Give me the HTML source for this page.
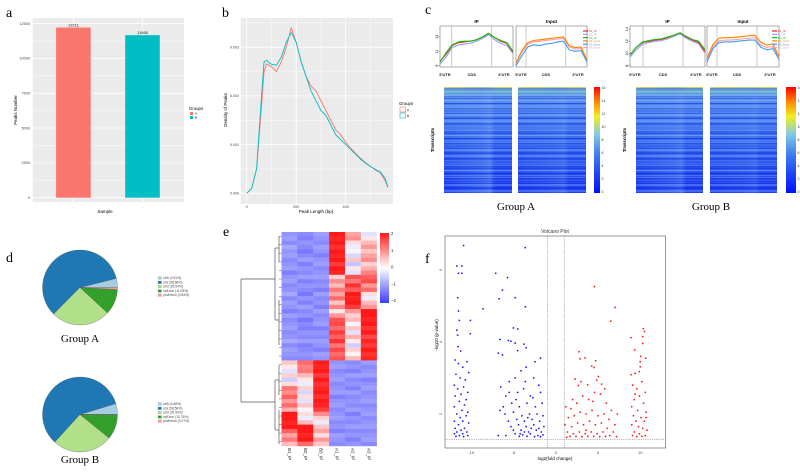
<!DOCTYPE html>
<html><head><meta charset="utf-8"><style>
body{margin:0;background:#fff;}
svg{display:block;font-family:"Liberation Sans",sans-serif;}
.serif{font-family:"Liberation Serif",serif;}
</style></head><body>
<svg id="fig" width="800" height="473" viewBox="0 0 800 473" xmlns="http://www.w3.org/2000/svg">
<defs>
<linearGradient id="jet" x1="0" y1="1" x2="0" y2="0">
<stop offset="0" stop-color="#0010ff"/><stop offset="0.35" stop-color="#3a78f0"/><stop offset="0.55" stop-color="#80c8e8"/><stop offset="0.72" stop-color="#f0f020"/><stop offset="0.87" stop-color="#ff8000"/><stop offset="1" stop-color="#ff0000"/>
</linearGradient>
<linearGradient id="bwr" x1="0" y1="1" x2="0" y2="0">
<stop offset="0" stop-color="#3c3cff"/><stop offset="0.5" stop-color="#ffffff"/><stop offset="1" stop-color="#ff1a1a"/>
</linearGradient>
<linearGradient id="hmTop" x1="0" y1="0" x2="0" y2="1">
<stop offset="0" stop-color="#d8e040"/><stop offset="0.02" stop-color="#80c8d0"/><stop offset="0.12" stop-color="#5a90f0"/><stop offset="0.5" stop-color="#3a6cf0"/><stop offset="1" stop-color="#1e3ef0"/>
</linearGradient>
<linearGradient id="hmBand" x1="0" y1="0" x2="1" y2="0">
<stop offset="0" stop-color="#6aa0f0" stop-opacity="0"/><stop offset="0.55" stop-color="#6aa0f0" stop-opacity="0.35"/><stop offset="0.68" stop-color="#80b0f0" stop-opacity="0.45"/><stop offset="0.75" stop-color="#6aa0f0" stop-opacity="0"/><stop offset="1" stop-color="#6aa0f0" stop-opacity="0"/>
</linearGradient>
<pattern id="stripes1" width="80" height="5" patternUnits="userSpaceOnUse">
<rect x="0" y="0" width="80" height="1" fill="#7ab0ff" opacity="0.35"/><rect x="0" y="3" width="80" height="1" fill="#0818d8" opacity="0.35"/>
</pattern>
<pattern id="stripes2" width="80" height="7" patternUnits="userSpaceOnUse">
<rect x="0" y="2" width="80" height="1" fill="#90c0ff" opacity="0.3"/><rect x="0" y="5" width="80" height="1.5" fill="#0010d0" opacity="0.25"/>
</pattern>
</defs>

<!-- Panel letters -->
<text x="6" y="17" class="serif" font-size="14">a</text>
<text x="222" y="17" class="serif" font-size="14">b</text>
<text x="425" y="14" class="serif" font-size="14">c</text>
<text x="6" y="262" class="serif" font-size="14">d</text>
<text x="223" y="236" class="serif" font-size="14">e</text>
<text x="425" y="263" class="serif" font-size="14">f</text>

<g id="pa"></g>
<g id="pb"></g>
<g id="pc"></g>
<g id="pd"></g>
<g id="pe"></g>
<g id="pf"></g>
</svg>
<script>
// ---------- DATA ----------
const barGroups = ["A","B"];
const barValues = [12211, 11665];
const barTicks = [0,2500,5000,7500,10000,12500];

const densX = [0,20,40,60,70,80,100,120,140,160,180,200,220,240,260,280,300,320,340,360,380,400,420,440,460,480,500,520,540,560,570];
const densA = [0,0.0001,0.0005,0.0018,0.0025,0.00266,0.0026,0.0025,0.0027,0.003,0.0034,0.0031,0.0027,0.0024,0.0022,0.0021,0.0019,0.0017,0.0015,0.0013,0.0012,0.00105,0.00093,0.00082,0.00072,0.00063,0.00055,0.00048,0.00042,0.00025,0.00012];
const densB = [0,0.0001,0.0005,0.002,0.0027,0.00273,0.00265,0.00263,0.0028,0.0031,0.0033,0.0031,0.0027,0.0024,0.0021,0.0019,0.0017,0.0016,0.0014,0.0012,0.0011,0.001,0.0009,0.0008,0.0007,0.00062,0.00055,0.00049,0.00044,0.0003,0.00013];
const densYTicks = [0,0.001,0.002,0.003];
const densXTicks = [0,200,400];

const ipA1 = [9.6,10.6,11.8,12.2,12.3,12.4,12.6,13.0,13.5,12.9,12.4,12.1,10.9];
const ipA2 = [9.2,10.2,11.5,11.9,12.0,12.1,12.4,12.8,13.3,12.6,12.1,11.8,10.7];
const ipA3 = [9.5,10.8,11.9,12.3,12.4,12.4,12.6,13.0,13.5,12.9,12.5,12.2,11.0];
const inA1 = [9.4,11.1,12.2,12.5,12.6,12.7,12.8,12.9,13.0,11.8,11.5,11.6,9.8];
const inA2 = [9.0,10.4,11.6,11.9,11.8,12.0,12.1,12.3,12.4,11.2,11.0,11.1,9.5];
const inA3 = [9.3,10.9,12.0,12.3,12.4,12.5,12.6,12.7,12.8,11.6,11.3,11.4,9.7];
const ipB1 = [9.8,11.0,11.8,12.0,12.2,12.3,12.6,13.0,13.4,12.7,12.2,11.8,10.3];
const ipB2 = [9.4,10.6,11.5,11.8,12.0,12.1,12.4,12.8,13.2,12.5,12.0,11.6,10.1];
const ipB3 = [9.7,11.0,11.9,12.1,12.3,12.4,12.7,13.0,13.4,12.8,12.3,12.0,10.6];
const inB1 = [9.2,11.5,12.5,12.6,12.6,12.7,12.8,12.9,13.0,11.8,11.4,11.6,9.5];
const inB2 = [8.6,10.8,11.8,11.9,11.9,12.0,12.1,12.2,12.2,11.0,10.6,10.8,9.0];
const inB3 = [8.9,11.1,12.1,12.2,12.2,12.3,12.4,12.5,12.6,11.3,11.0,11.2,9.2];
const ticksA = [9,11,13];
const ticksB = [8,10,12,14];
const cbTicks = [16,14,12,10,8,6,4,2,0];

const pieLabels = ["utr5","cds","utr3","npExon","pm/intron"];
const pieA = [3.91,58.68,25.54,11.05,0.84];
const pieB = [4.68,58.58,25.93,10.76,0.07];

const heatCols = ["B1_IP","B2_IP","B3_IP","A1_IP","A2_IP","A3_IP"];
const heatRows = [
[-1.1,-1.2,-1.0,2.0,0.8,-0.3],[-1.0,-1.3,-1.1,1.9,1.0,0.2],[-1.2,-1.1,-1.2,2.0,0.3,0.6],[-0.9,-1.2,-1.0,1.8,-0.2,0.9],[-1.1,-1.4,-1.1,2.0,0.1,0.5],
[-1.0,-1.2,-1.3,1.9,-0.4,0.8],[-1.2,-1.0,-1.1,2.0,0.5,1.0],[-1.1,-1.3,-1.0,1.7,-0.6,0.4],[-1.0,-1.1,-1.2,2.0,0.2,0.7],[-1.3,-1.2,-1.1,1.9,-0.3,1.1],
[-1.1,-1.0,-1.0,0.4,1.5,1.4],[-1.0,-1.3,-1.2,1.0,1.2,1.6],[-1.2,-1.1,-1.1,0.6,1.8,0.9],[-1.1,-1.2,-1.3,1.2,1.4,1.3],[-0.9,-1.4,-1.0,0.8,2.0,0.3],
[-1.2,-1.1,-1.2,1.3,1.9,-0.2],[-1.0,-1.3,-1.1,0.5,2.0,0.6],[-1.1,-1.0,-1.3,1.1,1.7,0.9],[-1.3,-1.2,-1.0,0.2,0.9,2.0],[-1.0,-1.1,-1.2,0.9,0.4,2.0],
[-1.2,-1.4,-1.1,1.5,0.6,1.9],[-1.1,-1.2,-1.0,1.6,-0.1,2.0],[-1.0,-1.3,-1.3,1.3,0.5,1.8],[-1.2,-1.1,-1.1,1.7,-0.3,2.0],[-1.1,-1.2,-1.2,1.4,0.7,1.6],
[-0.9,-1.0,-1.0,1.8,0.2,1.9],[-1.2,-1.3,-1.1,1.2,-0.5,1.7],[-1.0,-1.2,-1.3,1.6,0.4,2.0],[-1.1,-1.1,-1.0,1.3,0.1,1.8],[-1.2,-1.2,-1.1,1.5,0.6,1.9],
[0.5,1.3,2.0,-1.1,-1.2,-1.0],[0.2,1.1,1.9,-1.0,-1.1,-1.2],[-0.3,1.2,2.0,-1.2,-1.3,-1.1],[0.4,0.6,1.7,-1.1,-1.0,-1.0],[-0.5,0.2,2.0,-1.0,-1.2,-1.3],
[0.3,-0.2,1.8,-1.2,-1.1,-1.1],[1.2,0.4,1.9,-1.1,-1.3,-1.0],[1.0,-0.4,2.0,-1.0,-1.0,-1.2],[1.4,0.3,1.8,-1.3,-1.2,-1.1],[0.9,-0.3,2.0,-1.1,-1.1,-1.0],
[1.3,0.5,1.9,-1.0,-1.2,-1.2],[0.7,-0.1,1.7,-1.2,-1.0,-1.1],[2.0,0.3,1.0,-1.1,-1.3,-1.0],[2.0,-0.2,0.4,-1.0,-1.1,-1.2],[1.9,0.6,-0.2,-1.2,-1.2,-1.1],
[2.0,2.0,0.5,-1.1,-1.0,-1.0],[1.4,2.0,0.8,-1.3,-1.2,-1.2],[0.8,1.9,0.3,-1.0,-1.1,-1.1],[1.2,2.0,0.9,-1.1,-1.3,-1.0],[0.6,1.3,0.5,-1.2,-1.1,-1.2]];
const heatTicks = [2,1,0,-1,-2];

const downFC = [-10.9,-3.6,-11.7,-11.1,-11.5,-11.1,-7.1,-5.7,-6.3,-6.7,-4.8,-11.6,-8.6,-3.6,-11.5,-11.4,-10.1,-5.0,-4.5,-11.7,-11.6,-10.1,-6.6,-5.6,-5.3,-4.8,-3.75,-3.5,-11.56,-11.24,-6.8,-6.3,-4.5,-1.8,-2.45,
-11.9,-11.5,-10.5,-11.0,-11.8,-10.3,-11.3,-10.7,-12.0,-11.6,-10.9,-10.4,-11.2,-11.9,-10.6,-11.4,-12.0,-10.8,-11.1,-10.4,-11.7,-11.3,-10.6,-12.0,-11.0,-10.3,-11.5,-11.9,-10.8,-11.2,-10.5,-11.7,-12.0,-11.0,-11.4,-10.4,-11.8,-10.9,
-6.5,-5.5,-4.8,-4.1,-3.5,-2.6,-2.0,-5.9,-4.5,-3.8,-3.0,-1.8,-6.2,-5.2,-4.3,-3.4,-2.4,-1.6,-6.0,-5.0,-4.0,-3.1,-2.2,-1.5,-5.6,-4.6,-3.7,-2.8,-1.9,-5.3,-4.4,-3.5,-2.6,-1.4,-5.0,-4.1,-3.2,-2.3,-1.7,-4.8,-3.9,-3.0,-2.1,-1.5,-4.3,-3.4,-2.5,-1.8,-6.8,-5.9,-5.5,-6.6,-3.6,-2.9,-2.0,-3.3,-4.7,-2.7,-4.2,-3.7];
const downP = [6.68,6.62,6.11,6.11,5.91,5.91,5.91,5.79,5.44,5.2,5.23,5.23,4.92,4.98,4.86,4.6,4.6,4.39,4.36,4.33,4.19,4.23,4.07,4.04,4.02,3.97,3.94,3.84,3.87,3.75,3.69,3.64,3.76,3.55,3.45,
3.5,3.4,3.45,3.3,3.1,3.15,3.0,2.95,2.8,2.7,2.75,2.6,2.55,2.5,2.4,2.35,2.2,2.25,2.1,2.05,2.0,1.9,1.95,1.8,1.8,1.75,1.7,1.6,1.6,1.55,1.5,1.5,1.45,1.45,1.4,1.4,1.38,1.37,
2.75,2.9,3.0,3.2,3.3,3.0,2.8,2.5,2.6,2.7,2.5,2.6,2.2,2.3,2.2,2.3,2.2,2.3,2.0,2.05,1.95,2.0,2.0,1.95,1.8,1.85,1.8,1.85,1.8,1.65,1.7,1.65,1.7,1.65,1.55,1.55,1.5,1.55,1.5,1.45,1.42,1.45,1.4,1.42,1.38,1.38,1.37,1.37,1.4,1.4,2.6,2.1,2.9,1.6,1.6,1.9,2.4,2.45,1.45,1.5];
const upFC = [4.58,7.02,6.51,8.92,10.37,10.5,10.3,10.3,9.35,2.76,3.47,2.88,4.73,4.54,4.26,10.06,10.65,10.0,10.0,8.92,9.39,9.9,2.29,5.05,4.85,2.68,3.79,5.44,
1.2,1.8,2.5,3.2,3.9,4.6,5.3,6.0,6.6,7.3,1.5,2.2,2.9,3.6,4.3,5.0,5.7,6.3,7.0,1.1,1.9,2.6,3.3,4.0,4.7,5.4,6.1,6.8,1.4,2.1,2.8,3.5,4.2,4.9,5.6,6.4,7.2,1.7,2.4,3.1,3.8,4.5,5.2,5.9,3.0,4.4,2.0,5.8,1.3,3.6,
9.1,9.6,10.2,10.6,9.3,9.9,10.4,9.0,9.7,10.7,9.2,10.1,10.5,9.5,9.0,9.8,10.3,10.8,9.3,9.9,10.6,9.1,10.2,9.6,10.7,9.4];
const upP = [5.54,4.96,4.58,4.12,4.37,4.29,4.15,3.96,3.78,3.73,3.56,3.53,3.48,3.29,3.33,3.6,3.55,3.45,3.31,3.09,3.13,3.18,2.97,3.04,2.94,2.79,2.81,2.83,
2.2,2.15,2.3,2.5,2.4,2.6,2.55,2.3,2.1,2.0,1.9,1.95,2.05,2.0,2.1,1.95,2.0,1.85,1.7,1.7,1.65,1.75,1.7,1.8,1.7,1.75,1.6,1.5,1.5,1.45,1.5,1.45,1.5,1.45,1.5,1.4,1.37,1.38,1.38,1.37,1.38,1.38,1.37,1.38,2.9,2.35,2.4,2.7,1.35,1.55,
2.8,2.7,2.9,2.6,2.4,2.5,2.3,2.2,2.1,2.05,1.95,1.9,1.8,1.8,1.7,1.65,1.6,1.55,1.5,1.45,1.4,1.4,1.38,1.37,1.9,2.55];
const volXTicks = [-10,-5,0,5,10];
const volYTicks = [2,4,6];

// ---------- HELPERS ----------
const NS = "http://www.w3.org/2000/svg";
function mk(tag, attrs, parent){const e=document.createElementNS(NS,tag);for(const k in attrs)e.setAttribute(k,attrs[k]);parent.appendChild(e);return e;}
function txt(s, attrs, parent){const e=mk('text',attrs,parent);e.textContent=s;return e;}

// ---------- PANEL A ----------
(function(){
  const g=document.getElementById('pa');
  const x0=32.7,x1=184,yTop=18,yBot=202;
  const ya=v=>197.7-v*0.013935;
  const bg=mk('rect',{x:x0,y:yTop,width:x1-x0,height:yBot-yTop,fill:'#ebebeb'},g);
  
  
  barTicks.forEach((t,i)=>{
    if(i<barTicks.length-1){const m=mk('line',{x1:x0,x2:x1,y1:ya(t+1250),y2:ya(t+1250),stroke:'#fff','stroke-width':0.4},g);
    
    }
    const l=mk('line',{x1:x0,x2:x1,y1:ya(t),y2:ya(t),stroke:'#fff','stroke-width':0.8},g);
    
    
    const tl=txt(String(t),{x:30,y:ya(t)+1.3,'font-size':3.8,'text-anchor':'end',fill:'#444'},g);
    
    
  });
  const cols=['#f8766d','#00bfc4'];
  const centers=[73.4,142.5];
  centers.forEach(c=>{const l=mk('line',{x1:c,x2:c,y1:yTop,y2:yBot,stroke:'#fff','stroke-width':0.8},g);
    
    });
  barValues.forEach((v,i)=>{
    const b=mk('rect',{x:centers[i]-17.3,y:ya(v),width:34.6,height:ya(0)-ya(v),fill:cols[i]},g);
    
    
    const vl=txt(String(v),{x:centers[i],y:ya(v)-1,'font-size':4,'text-anchor':'middle',fill:'#222'},g);
    
    
    const xt=txt('-',{x:centers[i],y:208,'font-size':3,'text-anchor':'middle',fill:'#444'},g);
    
    
  });
  const yt=txt('Peaks Number',{x:0,y:0,'font-size':4.5,'text-anchor':'middle',transform:'translate(17,110) rotate(-90)'},g);
  
  
  const xt=txt('Sample',{x:105,y:213,'font-size':4.5,'text-anchor':'middle'},g);
  
  
  const lt=txt('Groups',{x:189,y:110,'font-size':4.3},g);
  
  
  barGroups.forEach((gname,i)=>{
    const r=mk('rect',{x:190,y:112+i*4,width:3,height:3,fill:cols[i]},g);
    
    
    const t=txt(gname,{x:195,y:114.7+i*4,'font-size':3},g);
    
    
  });
})();

// ---------- PANEL B ----------
(function(){
  const g=document.getElementById('pb');
  const x0=240.7,x1=393,yTop=18,yBot=204;
  const xb=v=>246.7+v*0.2475, yb=v=>193.3-v*48700;
  const bg=mk('rect',{x:x0,y:yTop,width:x1-x0,height:yBot-yTop,fill:'#ebebeb'},g);
  
  
  [100,300,500].forEach(t=>{const l=mk('line',{x1:xb(t),x2:xb(t),y1:yTop,y2:yBot,stroke:'#fff','stroke-width':0.4},g);
    
    });
  [0.0005,0.0015,0.0025,0.0035].forEach(t=>{const l=mk('line',{x1:x0,x2:x1,y1:yb(t),y2:yb(t),stroke:'#fff','stroke-width':0.4},g);
    
    });
  densXTicks.forEach(t=>{
    const l=mk('line',{x1:xb(t),x2:xb(t),y1:yTop,y2:yBot,stroke:'#fff','stroke-width':0.8},g);
    
    
    const tl=txt(String(t),{x:xb(t),y:208,'font-size':3.8,'text-anchor':'middle',fill:'#444'},g);
    
    
  });
  densYTicks.forEach(t=>{
    const l=mk('line',{x1:x0,x2:x1,y1:yb(t),y2:yb(t),stroke:'#fff','stroke-width':0.8},g);
    
    
    const tl=txt(t.toFixed(3),{x:239,y:yb(t)+1.3,'font-size':3.6,'text-anchor':'end',fill:'#444'},g);
    
    
  });
  [[densA,'#f8766d','density-line-a'],[densB,'#00bfc4','density-line-b']].forEach(([arr,c,n])=>{
    const p=mk('polyline',{points:densX.map((x,i)=>xb(x)+','+yb(arr[i])).join(' '),fill:'none',stroke:c,'stroke-width':0.9,'stroke-linejoin':'round'},g);
    
    
  });
  const yt=txt('Density of Peaks',{x:0,y:0,'font-size':4.5,'text-anchor':'middle',transform:'translate(227,110) rotate(-90)'},g);
  
  
  const xt=txt('Peak Length (bp)',{x:316,y:213,'font-size':4.5,'text-anchor':'middle'},g);
  
  
  const lt=txt('Groups',{x:399,y:105,'font-size':4.3},g);
  
  
  ['A','B'].forEach((n,i)=>{
    const r=mk('rect',{x:400,y:107+i*6,width:5.5,height:5,fill:'none',stroke:['#f8766d','#00bfc4'][i],'stroke-width':0.6},g);
    
    
    const t=txt(n,{x:407,y:111+i*6,'font-size':3},g);
    
    
  });
})();

// ---------- PANEL C ----------
(function(){
  const g=document.getElementById('pc');
  function profile(x0,x1,yBase,ppu,minV,series,cols,vl,title,showAxis,ticks){
    const yTop=26,yBot=67;
    const fr=mk('rect',{x:x0,y:yTop,width:x1-x0,height:yBot-yTop,fill:'#fff',stroke:'#333','stroke-width':0.4},g);
    
    
    vl.forEach(v=>{const l=mk('line',{x1:v,x2:v,y1:yTop,y2:yBot,stroke:'#bbb','stroke-width':0.8},g);
      
      });
    const yv=v=>yBase-(v-minV)*ppu;
    series.forEach((s,k)=>{
      const n=s.length,step=(x1-x0)/(n-1);
      const p=mk('polyline',{points:s.map((v,i)=>(x0+i*step)+','+yv(v)).join(' '),fill:'none',stroke:cols[k],'stroke-width':1.1,'stroke-linejoin':'round'},g);
      
      
    });
    const t=txt(title,{x:(x0+x1)/2,y:23,'font-size':4.5,'font-weight':'bold','text-anchor':'middle'},g);
    
    
    if(showAxis){ticks.forEach(tk=>{
      const tl=txt(String(tk),{x:0,y:0,'font-size':3.8,'text-anchor':'middle',transform:'translate('+(x0-2)+','+yv(tk)+') rotate(-90)'},g);
      
      
      const tm=mk('line',{x1:x0-1.5,x2:x0,y1:yv(tk),y2:yv(tk),stroke:'#333','stroke-width':0.4},g);
      
      
    });}
    [['5\'UTR',x0+5],['CDS',(vl[0]+vl[1])/2],['3\'UTR',x1-9]].forEach(([s,x])=>{
      const l=txt(s,{x:x,y:76,'font-size':4,'font-weight':'bold','text-anchor':'middle',fill:'#222'},g);
      
      
    });
  }
  const ipCols=['#ff2020','#9a9aff','#10c010'], inCols=['#ff8000','#3a9cff','#ffa0a0'];
  profile(440,513,65.7,7.2,9,[ipA2,ipA1,ipA3],[ipCols[1],ipCols[0],ipCols[2]],[451.7,491.7],'IP',true,ticksA);
  profile(516,587,65.7,7.2,9,[inA3,inA2,inA1],[inCols[2],inCols[1],inCols[0]],[526,565.7],'Input',false,ticksA);
  profile(630,705,65.7,6.1,8,[ipB2,ipB1,ipB3],[ipCols[1],ipCols[0],ipCols[2]],[643,683],'IP',true,ticksB);
  profile(707,779,65.7,6.1,8,[inB3,inB2,inB1],[inCols[2],inCols[1],inCols[0]],[717,757],'Input',false,ticksB);
  function legend(x,pre){
    const names=[pre+'1_IP',pre+'2_IP',pre+'3_IP',pre+'1_input',pre+'2_input',pre+'3_input'];
    const cs=[ipCols[0],ipCols[1],ipCols[2],inCols[0],inCols[1],inCols[2]];
    names.forEach((n,i)=>{
      const l=mk('line',{x1:x,x2:x+5,y1:31+i*3.3,y2:31+i*3.3,stroke:cs[i],'stroke-width':1.2},g);
      
      
      const t=txt(n,{x:x+6,y:32.2+i*3.3,'font-size':2.8,fill:cs[i]},g);
      
      
    });
  }
  legend(583,'A'); legend(772,'B');
  function hm(x0,x1,band){
    const y0=87,y1=193;
    const base=mk('rect',{x:x0,y:y0,width:x1-x0,height:y1-y0,fill:'url(#hmTop)'},g);
    
    
    const b=mk('rect',{x:x0,y:y0,width:x1-x0,height:y1-y0,fill:'url(#hmBand)',opacity:band},g);
    
    
    const s1=mk('rect',{x:x0,y:y0,width:x1-x0,height:y1-y0,fill:'url(#stripes1)'},g);
    
    
    const s2=mk('rect',{x:x0,y:y0,width:x1-x0,height:y1-y0,fill:'url(#stripes2)'},g);
    
    
  }
  hm(444,512,1); hm(518,586,0.6); hm(636,703,0.8); hm(710,777,0.5);
  function cbar(x,w){
    const r=mk('rect',{x:x,y:87,width:w,height:106,fill:'url(#jet)'},g);
    
    
    cbTicks.forEach((t,i)=>{
      const tl=txt(String(t),{x:x+w+1.5,y:89+i*(104/(cbTicks.length-1)),'font-size':3.5,fill:'#333'},g);
      
      
    });
  }
  cbar(594,6); cbar(786,10);
  [[434,'Transcripts'],[626,'Transcripts']].forEach(([x,s])=>{
    const t=txt(s,{x:0,y:0,'font-size':4.5,'font-weight':'bold','text-anchor':'middle',transform:'translate('+x+',140) rotate(-90)'},g);
    
    
  });
  [[516,'Group A'],[711,'Group B']].forEach(([x,s])=>{
    const t=txt(s,{x:x,y:210,'font-size':11,'text-anchor':'middle',class:'serif'},g);
    
    
  });
})();

// ---------- PANEL D ----------
(function(){
  const g=document.getElementById('pd');
  const cols=['#a6cee3','#1f78b4','#b2df8a','#33a02c','#fb9a99'];
  function pie(cx,cy,r,vals,legY,cap,capY){
    const tot=vals.reduce((a,b)=>a+b,0);
    let a=0;
    vals.forEach((v,i)=>{
      const a0=a,a1=a+v/tot*2*Math.PI;a=a1;
      const x0=cx+r*Math.cos(a0),y0=cy-r*Math.sin(a0),x1=cx+r*Math.cos(a1),y1=cy-r*Math.sin(a1);
      const large=(a1-a0)>Math.PI?1:0;
      const p=mk('path',{d:`M${cx},${cy}L${x0},${y0}A${r},${r} 0 ${large} 0 ${x1},${y1}Z`,fill:cols[i],stroke:'#555','stroke-width':0.3},g);
      
      
    });
    vals.forEach((v,i)=>{
      const r2=mk('rect',{x:158,y:legY+i*4.3-2.3,width:3.5,height:2.6,fill:cols[i],stroke:'#888','stroke-width':0.2},g);
      
      
      const t=txt(pieLabels[i]+' ('+v.toFixed(2)+'%)',{x:163,y:legY+i*4.3,'font-size':3.3,fill:'#444'},g);
      
      
    });
    const c=txt(cap,{x:cx,y:capY,'font-size':11,'text-anchor':'middle',class:'serif'},g);
    
    
  }
  pie(80,287.5,37.5,pieA,279,'Group A',342);
  pie(80,414.5,37.5,pieB,405,'Group B',463);
})();

// ---------- PANEL E ----------
(function(){
  const g=document.getElementById('pe');
  const x0=281.5,x1=376.7,y0=232,y1=446;
  const cw=(x1-x0)/heatCols.length, rh=(y1-y0)/heatRows.length;
  function col(v){
    const t=Math.max(-1,Math.min(1,v/2));
    if(t>=0){return `rgb(255,${Math.round(255-t*229)},${Math.round(255-t*229)})`;}
    const u=-t;return `rgb(${Math.round(255-u*195)},${Math.round(255-u*195)},255)`;
  }
  heatRows.forEach((row,ri)=>{
    row.forEach((v,ci)=>{
      const r=mk('rect',{x:x0+ci*cw,y:y0+ri*rh,width:cw+0.2,height:rh+0.2,fill:col(v)},g);
      
      
    });
  });
  heatCols.forEach((c,ci)=>{
    const t=txt(c,{x:0,y:0,'font-size':4.5,fill:'#222',transform:`translate(${x0+ci*cw+cw/2-1.5},448) rotate(90)`},g);
    
    
  });
  const cb=mk('rect',{x:380,y:233,width:9,height:70,fill:'url(#bwr)'},g);
  
  
  heatTicks.forEach((t,i)=>{
    const tl=txt(t<0?'\u2212'+(-t):String(t),{x:391,y:235+i*16.8,'font-size':4.3,fill:'#222'},g);
    
    
  });
  // dendrogram
  const segs=[[241,279,241,402],[241,279,275,279],[241,402,275,402],[275,248,275,320],[275,380,275,430],
    [275,248,279,248],[275,320,279,320],[275,380,279,380],[275,430,279,430],
    [279,236,279,262],[279,300,279,345],[279,365,279,395],[279,410,279,444]];
  segs.forEach(s=>{
    const l=mk('line',{x1:s[0],y1:s[1],x2:s[2],y2:s[3],stroke:'#555','stroke-width':0.7},g);
    
    
  });
  for(let i=0;i<50;i+=2){
    const l=mk('line',{x1:279,x2:281.5,y1:y0+i*rh+rh,y2:y0+i*rh+rh,stroke:'#555','stroke-width':0.5},g);
    
    
  }
})();

// ---------- PANEL F ----------
(function(){
  const g=document.getElementById('pf');
  const x0=445,x1=665.7,yTop=236,yBot=448;
  const xv=v=>555.7+v*8.45, yv=v=>486-v*36;
  const fr=mk('rect',{x:x0,y:yTop,width:x1-x0,height:yBot-yTop,fill:'#fff',stroke:'#555','stroke-width':0.6},g);
  
  
  const tt=txt('Volcano Plot',{x:555,y:233,'font-size':5,'text-anchor':'middle',fill:'#333'},g);
  
  
  [-1,1].forEach(v=>{const l=mk('line',{x1:xv(v),x2:xv(v),y1:yTop,y2:yBot,stroke:'#666','stroke-width':0.5,'stroke-dasharray':'1.2,1'},g);
    
    });
  const hl=mk('line',{x1:x0,x2:x1,y1:yv(1.3),y2:yv(1.3),stroke:'#666','stroke-width':0.5,'stroke-dasharray':'1.2,1'},g);
  
  
  downFC.forEach((v,i)=>{
    const c=mk('circle',{cx:xv(v),cy:yv(downP[i]),r:0.9,fill:'#1a1aff'},g);
    
    
  });
  upFC.forEach((v,i)=>{
    const c=mk('circle',{cx:xv(v),cy:yv(upP[i]),r:0.9,fill:'#ff1a1a'},g);
    
    
  });
  volXTicks.forEach(t=>{
    const tl=txt(String(t),{x:xv(t),y:454,'font-size':4,'text-anchor':'middle',fill:'#444'},g);
    
    
  });
  volYTicks.forEach(t=>{
    const tl=txt(String(t),{x:0,y:0,'font-size':4,'text-anchor':'middle',fill:'#444',transform:`translate(442,${yv(t)}) rotate(-90)`},g);
    
    
  });
  const xt=txt('log2(fold change)',{x:555,y:460,'font-size':4.5,'text-anchor':'middle'},g);
  
  
  const yt=txt('-log10 (p-value)',{x:0,y:0,'font-size':4.5,'text-anchor':'middle',transform:'translate(438,335) rotate(-90)'},g);
  
  
})();
</script>
</body></html>
